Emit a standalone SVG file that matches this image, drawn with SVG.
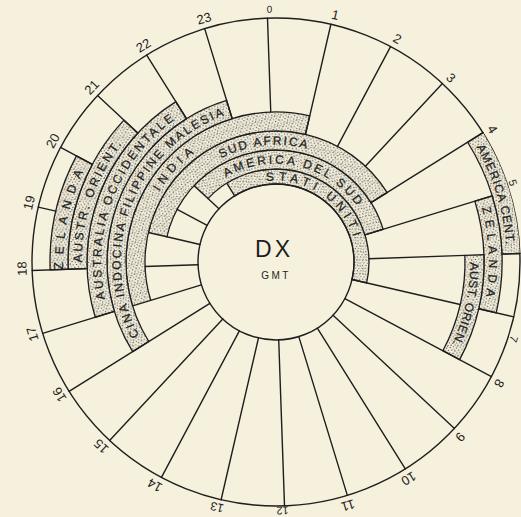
<svg xmlns="http://www.w3.org/2000/svg" xmlns:xlink="http://www.w3.org/1999/xlink" width="521" height="517" viewBox="0 0 521 517">
<style>
.ln{stroke:#1e1e1e;stroke-width:1.4;fill:none;stroke-linecap:round}
.arc{stroke:#1e1e1e;stroke-width:1.3;fill:none;stroke-linecap:butt}
.st{fill:none;stroke:url(#dots);stroke-linecap:butt}
.hr{font-family:"Liberation Sans","DejaVu Sans",sans-serif;font-size:13px;fill:#1e1e1e;text-anchor:middle}
.bt{font-family:"Liberation Sans","DejaVu Sans",sans-serif;font-size:12px;fill:#1e1e1e;stroke:#1e1e1e;stroke-width:0.25;text-anchor:middle}
.ct{font-family:"Liberation Sans","DejaVu Sans",sans-serif;fill:#1e1e1e;text-anchor:middle}
</style>
<defs>
<pattern id="dots" patternUnits="userSpaceOnUse" width="10" height="10">
<rect width="10" height="10" fill="#f3eedb"/>
<g fill="#262626">
<circle cx="1.1" cy="1.6" r="0.6"/><circle cx="4.3" cy="0.7" r="0.55"/><circle cx="7.4" cy="2.1" r="0.65"/>
<circle cx="9.3" cy="4.4" r="0.55"/><circle cx="2.8" cy="4.0" r="0.6"/><circle cx="5.8" cy="5.0" r="0.65"/>
<circle cx="0.6" cy="6.7" r="0.55"/><circle cx="3.9" cy="7.4" r="0.65"/><circle cx="7.8" cy="7.1" r="0.55"/>
<circle cx="2.1" cy="9.2" r="0.6"/><circle cx="6.1" cy="9.1" r="0.55"/><circle cx="9.0" cy="9.5" r="0.6"/>
<circle cx="8.6" cy="0.4" r="0.45"/><circle cx="4.9" cy="2.9" r="0.45"/>
</g>
</pattern>
<path id="b0" d="M0,-81.5A81.5,81.5 0 1 1 0,81.5A81.5,81.5 0 1 1 0,-81.5"/>
<path id="b1" d="M0,-98.3A98.3,98.3 0 1 1 0,98.3A98.3,98.3 0 1 1 0,-98.3"/>
<path id="b2" d="M0,-117.3A117.3,117.3 0 1 1 0,117.3A117.3,117.3 0 1 1 0,-117.3"/>
<path id="b3" d="M0,-136.3A136.3,136.3 0 1 1 0,136.3A136.3,136.3 0 1 1 0,-136.3"/>
<path id="b4" d="M0,-155.3A155.3,155.3 0 1 1 0,155.3A155.3,155.3 0 1 1 0,-155.3"/>
<path id="b5" d="M0,-174.8A174.8,174.8 0 1 1 0,174.8A174.8,174.8 0 1 1 0,-174.8"/>
<path id="b6" d="M0,-194.3A194.3,194.3 0 1 1 0,194.3A194.3,194.3 0 1 1 0,-194.3"/>
<path id="b7" d="M0,-212.8A212.8,212.8 0 1 1 0,212.8A212.8,212.8 0 1 1 0,-212.8"/>
<path id="b8" d="M0,-230.8A230.8,230.8 0 1 1 0,230.8A230.8,230.8 0 1 1 0,-230.8"/>
</defs>
<rect width="521" height="517" fill="#f6f1dd"/>

<g id="dial" transform="translate(276 262)">
<circle r="244" class="ln" stroke-width="1.5"/>
</g>

<g id="band-stati-uniti" transform="translate(276 262)">
<circle r="85.5" class="st" stroke-width="15" stroke-dasharray="201.45 2000" transform="rotate(238)"/>
<circle r="78" class="arc" stroke-dasharray="183.78 2000" transform="rotate(238)"/>
<circle r="93" class="arc" stroke-dasharray="219.13 2000" transform="rotate(238)"/>
<line class="ln" y1="-78" y2="-93" transform="rotate(328)"/>
<line class="ln" y1="-78" y2="-93" transform="rotate(103)"/>
<text class="bt" font-size="11" letter-spacing="4.5" transform="rotate(-56)"><textPath href="#b0" xlink:href="#b0" startOffset="25%">STATI UNITI</textPath></text>
</g>

<g id="band-america-del-sud" transform="translate(276 262)">
<circle r="102.5" class="st" stroke-width="19" stroke-dasharray="214.68 2000" transform="rotate(223)"/>
<circle r="93" class="arc" stroke-dasharray="194.78 2000" transform="rotate(223)"/>
<circle r="112" class="arc" stroke-dasharray="234.57 2000" transform="rotate(223)"/>
<line class="ln" y1="-93" y2="-112" transform="rotate(313)"/>
<line class="ln" y1="-93" y2="-112" transform="rotate(73)"/>
<text class="bt" letter-spacing="2.7" transform="rotate(-77)"><textPath href="#b1" xlink:href="#b1" startOffset="25%">AMERICA DEL SUD</textPath></text>
</g>

<g id="band-sud-africa" transform="translate(276 262)">
<circle r="121.5" class="st" stroke-width="19" stroke-dasharray="286.28 2000" transform="rotate(193)"/>
<circle r="112" class="arc" stroke-dasharray="263.89 2000" transform="rotate(193)"/>
<circle r="131" class="arc" stroke-dasharray="308.66 2000" transform="rotate(193)"/>
<line class="ln" y1="-112" y2="-131" transform="rotate(283)"/>
<line class="ln" y1="-112" y2="-131" transform="rotate(58)"/>
<text class="bt" letter-spacing="1.8" transform="rotate(264)"><textPath href="#b2" xlink:href="#b2" startOffset="25%">SUD AFRICA</textPath></text>
</g>

<g id="band-india" transform="translate(276 262)">
<circle r="140.5" class="st" stroke-width="19" stroke-dasharray="294.26 2000" transform="rotate(163)"/>
<circle r="131" class="arc" stroke-dasharray="274.37 2000" transform="rotate(163)"/>
<circle r="150" class="arc" stroke-dasharray="314.16 2000" transform="rotate(163)"/>
<line class="ln" y1="-131" y2="-150" transform="rotate(253)"/>
<line class="ln" y1="-131" y2="-150" transform="rotate(13)"/>
<text class="bt" letter-spacing="5" transform="rotate(223)"><textPath href="#b3" xlink:href="#b3" startOffset="25%">INDIA</textPath></text>
</g>

<g id="band-cina" transform="translate(276 262)">
<circle r="159.5" class="st" stroke-width="19" stroke-dasharray="292.30 2000" transform="rotate(148)"/>
<circle r="150" class="arc" stroke-dasharray="274.89 2000" transform="rotate(148)"/>
<circle r="169" class="arc" stroke-dasharray="309.71 2000" transform="rotate(148)"/>
<line class="ln" y1="-150" y2="-169" transform="rotate(238)"/>
<line class="ln" y1="-150" y2="-169" transform="rotate(343)"/>
<text class="bt" letter-spacing="2.1" transform="rotate(201.5)"><textPath href="#b4" xlink:href="#b4" startOffset="25%">CINA INDOCINA FILIPPINE MALESIA</textPath></text>
</g>

<g id="band-australia-occidentale" transform="translate(276 262)">
<circle r="179" class="st" stroke-width="20" stroke-dasharray="234.31 2000" transform="rotate(163)"/>
<circle r="169" class="arc" stroke-dasharray="221.22 2000" transform="rotate(163)"/>
<circle r="189" class="arc" stroke-dasharray="247.40 2000" transform="rotate(163)"/>
<line class="ln" y1="-169" y2="-189" transform="rotate(253)"/>
<line class="ln" y1="-169" y2="-189" transform="rotate(328)"/>
<text class="bt" letter-spacing="2.45" transform="rotate(201.5)"><textPath href="#b5" xlink:href="#b5" startOffset="25%">AUSTRALIA OCCIDENTALE</textPath></text>
</g>

<g id="band-austr-orient-left" transform="translate(276 262)">
<circle r="198.5" class="st" stroke-width="19" stroke-dasharray="155.90 2000" transform="rotate(178)"/>
<circle r="189" class="arc" stroke-dasharray="148.44 2000" transform="rotate(178)"/>
<circle r="208" class="arc" stroke-dasharray="163.36 2000" transform="rotate(178)"/>
<line class="ln" y1="-189" y2="-208" transform="rotate(268)"/>
<line class="ln" y1="-189" y2="-208" transform="rotate(313)"/>
<text class="bt" letter-spacing="2.5" transform="rotate(199)"><textPath href="#b6" xlink:href="#b6" startOffset="25%">AUSTR. ORIENT.</textPath></text>
</g>

<g id="band-zelanda-left" transform="translate(276 262)">
<circle r="217" class="st" stroke-width="18" stroke-dasharray="113.62 2000" transform="rotate(178)"/>
<circle r="208" class="arc" stroke-dasharray="108.91 2000" transform="rotate(178)"/>
<circle r="226" class="arc" stroke-dasharray="118.33 2000" transform="rotate(178)"/>
<line class="ln" y1="-208" y2="-226" transform="rotate(268)"/>
<line class="ln" y1="-208" y2="-226" transform="rotate(298)"/>
<text class="bt" letter-spacing="7.5" transform="rotate(192.5)"><textPath href="#b7" xlink:href="#b7" startOffset="25%">ZELANDA</textPath></text>
</g>

<g id="band-america-cent" transform="translate(276 262)">
<circle r="235" class="st" stroke-width="18" stroke-dasharray="123.05 2000" transform="rotate(-32)"/>
<circle r="226" class="arc" stroke-dasharray="118.33 2000" transform="rotate(-32)"/>
<line class="ln" y1="-226" y2="-244" transform="rotate(58)"/>
<line class="ln" y1="-226" y2="-244" transform="rotate(88)"/>
<text class="bt" letter-spacing="0.9" transform="rotate(-17)"><textPath href="#b8" xlink:href="#b8" startOffset="25%">AMERICA CENT.</textPath></text>
</g>

<g id="band-zelanda-right" transform="translate(276 262)">
<circle r="217" class="st" stroke-width="18" stroke-dasharray="113.62 2000" transform="rotate(-17)"/>
<circle r="208" class="arc" stroke-dasharray="108.91 2000" transform="rotate(-17)"/>
<circle r="226" class="arc" stroke-dasharray="118.33 2000" transform="rotate(-17)"/>
<line class="ln" y1="-208" y2="-226" transform="rotate(73)"/>
<line class="ln" y1="-208" y2="-226" transform="rotate(103)"/>
<text class="bt" letter-spacing="5.6" transform="rotate(-2)"><textPath href="#b7" xlink:href="#b7" startOffset="25%">ZELANDA</textPath></text>
</g>

<g id="band-aust-orien-right" transform="translate(276 262)">
<circle r="198.5" class="st" stroke-width="19" stroke-dasharray="103.94 2000" transform="rotate(-2)"/>
<circle r="189" class="arc" stroke-dasharray="98.96 2000" transform="rotate(-2)"/>
<circle r="208" class="arc" stroke-dasharray="108.91 2000" transform="rotate(-2)"/>
<line class="ln" y1="-189" y2="-208" transform="rotate(88)"/>
<line class="ln" y1="-189" y2="-208" transform="rotate(118)"/>
<text class="bt" letter-spacing="0.45" transform="rotate(12.5)"><textPath href="#b6" xlink:href="#b6" startOffset="25%">AUST. ORIEN.</textPath></text>
</g>

<g id="connectors" class="ln" transform="translate(276 262)">
<line y1="-150" y2="-244" transform="rotate(-2)"/>
<line y1="-131" y2="-244" transform="rotate(13)"/>
<line y1="-131" y2="-244" transform="rotate(28)"/>
<line y1="-131" y2="-244" transform="rotate(43)"/>
<line y1="-112" y2="-244" transform="rotate(58)"/>
<line y1="-93" y2="-226" transform="rotate(73)"/>
<line y1="-93" y2="-189" transform="rotate(88)"/>
<line y1="-226" y2="-244" transform="rotate(88)"/>
<line y1="-78" y2="-189" transform="rotate(103)"/>
<line y1="-208" y2="-244" transform="rotate(103)"/>
<line y1="-78" y2="-244" transform="rotate(118)"/>
<line y1="-78" y2="-244" transform="rotate(133)"/>
<line y1="-78" y2="-244" transform="rotate(148)"/>
<line y1="-78" y2="-244" transform="rotate(163)"/>
<line y1="-78" y2="-244" transform="rotate(178)"/>
<line y1="-78" y2="-244" transform="rotate(193)"/>
<line y1="-78" y2="-244" transform="rotate(208)"/>
<line y1="-78" y2="-244" transform="rotate(223)"/>
<line y1="-78" y2="-244" transform="rotate(238)"/>
<line y1="-78" y2="-131" transform="rotate(253)"/>
<line y1="-169" y2="-244" transform="rotate(253)"/>
<line y1="-78" y2="-131" transform="rotate(268)"/>
<line y1="-189" y2="-244" transform="rotate(268)"/>
<line y1="-78" y2="-112" transform="rotate(283)"/>
<line y1="-226" y2="-244" transform="rotate(283)"/>
<line y1="-78" y2="-112" transform="rotate(298)"/>
<line y1="-208" y2="-244" transform="rotate(298)"/>
<line y1="-78" y2="-93" transform="rotate(313)"/>
<line y1="-189" y2="-244" transform="rotate(313)"/>
<line y1="-169" y2="-244" transform="rotate(328)"/>
<line y1="-150" y2="-244" transform="rotate(343)"/>
</g>

<g id="hour-labels" class="hr" transform="translate(276 262)">
<text font-size="10" transform="rotate(-1.5) translate(0 -249.5)">0</text>
<text transform="rotate(13.5) translate(0 -249.5)">1</text>
<text transform="rotate(28.5) translate(0 -249.5)">2</text>
<text transform="rotate(43.5) translate(0 -249.5)">3</text>
<text transform="rotate(58.5) translate(0 -249.5)">4</text>
<text font-size="11" transform="rotate(71.5) translate(0 -246)">5</text>
<text font-size="11" transform="rotate(108) translate(0 -246)">7</text>
<text transform="rotate(118.5) translate(0 -249.5)">8</text>
<text transform="rotate(133.5) translate(0 -249.5)">9</text>
<text transform="rotate(148.5) translate(0 -249.5)">10</text>
<text transform="rotate(163.5) translate(0 -249.5)">11</text>
<text font-size="11" transform="rotate(178.5) translate(0 -244.8)">12</text>
<text font-size="12" transform="rotate(193.5) translate(0 -248)">13</text>
<text transform="rotate(208.5) translate(0 -249.5)">14</text>
<text transform="rotate(223.5) translate(0 -249.5)">15</text>
<text transform="rotate(238.5) translate(0 -249.5)">16</text>
<text transform="rotate(253.5) translate(0 -249.5)">17</text>
<text transform="rotate(268.5) translate(0 -249.5)">18</text>
<text transform="rotate(283.5) translate(0 -249.5)">19</text>
<text transform="rotate(298.5) translate(0 -249.5)">20</text>
<text transform="rotate(313.5) translate(0 -249.5)">21</text>
<text transform="rotate(328.5) translate(0 -249.5)">22</text>
<text transform="rotate(343.5) translate(0 -249.5)">23</text>
</g>

<g id="center-dx-gmt">
<circle cx="276" cy="262" r="78" class="ln" stroke-width="1.5"/>
<text class="ct" x="274" y="257" font-size="23" letter-spacing="3">DX</text>
<text class="ct" x="276" y="279" font-size="10" letter-spacing="2.5">GMT</text>
</g>
</svg>
